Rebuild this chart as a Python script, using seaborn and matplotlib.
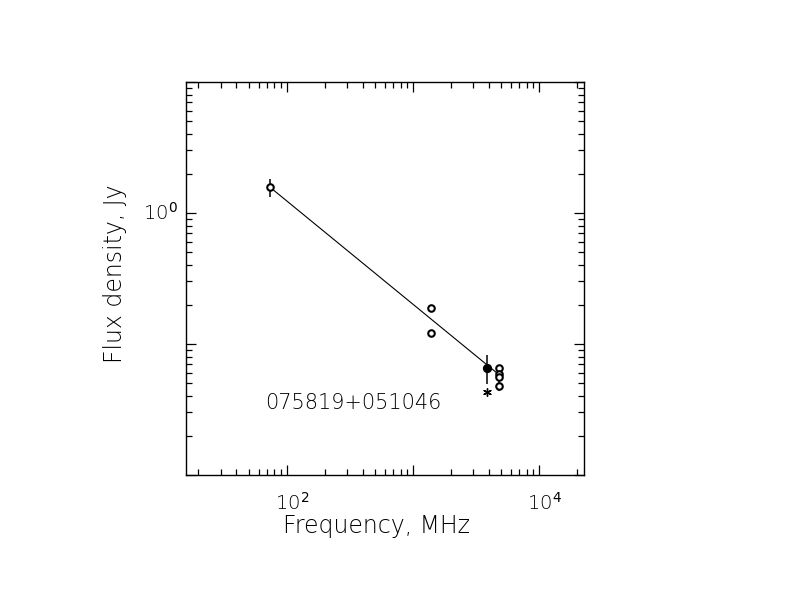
import matplotlib
matplotlib.use("Agg")
import matplotlib.pyplot as plt
import seaborn as sns
import pandas as pd
from matplotlib.ticker import LogLocator, NullFormatter, FixedLocator

# open circles
freq_open = [74, 1400, 1400, 4850, 4850, 4850, 4850]
flux_open = [1.57, 0.187, 0.121, 0.0659, 0.0593, 0.0558, 0.0481]

# filled point with error bar
freq_filled = [3900]
flux_filled = [0.066]
err_filled = [0.0165]

# asterisk point
freq_star = [3900]
flux_star = [0.0427]

# error bars on open points
freq_err = [74, 4850]
flux_err = [1.57, 0.056]
err_open = [0.25, 0.012]

# fitted power law
fit_freq = [74, 4850]
fit_flux = [1.57, 0.058]

source_name = "075819+051046"

sns.set_style("white")
plt.rcParams["font.family"] = ["DejaVu Sans"]
plt.rcParams["text.color"] = "black"
plt.rcParams["axes.labelcolor"] = "black"

fig = plt.figure(figsize=(7.92, 6.12), dpi=100)
ax = fig.add_axes([0.2348, 0.2239, 0.5025, 0.6422])

df_open = pd.DataFrame({"freq": freq_open, "flux": flux_open})
df_fit = pd.DataFrame({"freq": fit_freq, "flux": fit_flux})

sns.lineplot(data=df_fit, x="freq", y="flux", ax=ax, color="black", lw=0.8)
ax.errorbar(freq_err, flux_err, yerr=err_open, fmt="none", ecolor="black", elinewidth=1.1, capsize=0)
ax.errorbar(freq_filled, flux_filled, yerr=err_filled, fmt="none", ecolor="black", elinewidth=1.1, capsize=0)
sns.scatterplot(data=df_open, x="freq", y="flux", ax=ax, marker="o", s=22,
                facecolor="white", edgecolor="black", linewidth=1.5, zorder=5)
ax.scatter(freq_filled, flux_filled, marker="o", s=32, color="black", zorder=5)
ax.scatter(freq_star, flux_star, marker=(6, 2, 0), s=30, color="black", linewidth=1.0, zorder=5)

ax.set_xscale("log")
ax.set_yscale("log")
ax.set_xlim(10 ** 1.2027, 10 ** 4.356)
ax.set_ylim(0.01, 10)

ax.xaxis.set_major_locator(FixedLocator([1e2, 1e3, 1e4]))
ax.yaxis.set_major_locator(FixedLocator([1e-2, 1e-1, 1e0, 1e1]))
ax.xaxis.set_minor_locator(LogLocator(base=10, subs=range(2, 10)))
ax.yaxis.set_minor_locator(LogLocator(base=10, subs=range(2, 10)))
ax.xaxis.set_minor_formatter(NullFormatter())
ax.yaxis.set_minor_formatter(NullFormatter())
ax.set_xticklabels(["", "", ""])
ax.set_yticklabels(["", "", "", ""])

ax.tick_params(which="both", direction="in", bottom=True, left=True, top=True, right=True,
               color="black", width=0.9)
ax.tick_params(which="major", length=7)
ax.tick_params(which="minor", length=4.5)
for sp in ax.spines.values():
    sp.set_color("black")
    sp.set_linewidth(1.0)

# tick labels drawn like the original, a bit right of the tick
for xv, lab in [(1e2, "10$^2$"), (1e4, "10$^4$")]:
    ax.annotate(lab, xy=(xv, -0.07), xycoords=("data", "axes fraction"),
                xytext=(4, 0), textcoords="offset points", ha="center", va="center",
                fontsize=14, fontweight="light", color="black")
ax.annotate("10$^0$", xy=(-0.02, 1e0), xycoords=("axes fraction", "data"),
            ha="right", va="center", fontsize=14, fontweight="light", color="black")

ax.set_xlabel("Frequency, MHz", fontsize=17, fontweight="light")
ax.set_ylabel("Flux density, Jy", fontsize=17, fontweight="light")
ax.xaxis.set_label_coords(0.48, -0.1)
ax.yaxis.set_label_coords(-0.148, 0.511)

ax.text(0.198, 0.183, source_name, transform=ax.transAxes, fontsize=15,
        fontweight="light", ha="left", va="center", color="black")

fig.savefig("out.png", dpi=100)
